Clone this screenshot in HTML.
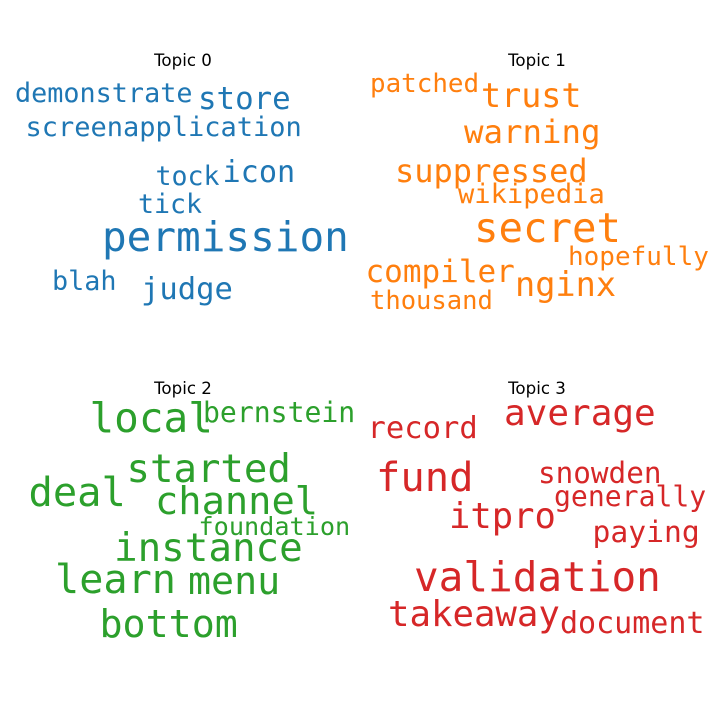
<!DOCTYPE html>
<html lang="en">
<head>
<meta charset="utf-8">
<title>Topic word clouds</title>
<style>
html,body{margin:0;padding:0;background:#fff;width:720px;height:720px;overflow:hidden}
svg{display:block}
.t{font-family:"DejaVu Sans","Liberation Sans",sans-serif;font-size:16.67px;fill:#000;text-anchor:middle}
.w{font-family:"DejaVu Sans Mono","Liberation Mono",monospace}
.c0{fill:#1f77b4}.c1{fill:#ff7f0e}.c2{fill:#2ca02c}.c3{fill:#d62728}
</style>
</head>
<body>
<svg width="720" height="720" viewBox="0 0 720 720" xmlns="http://www.w3.org/2000/svg">
<g>
<text class="t" x="183" y="66">Topic 0</text>
<text class="w c0" x="15" y="102" font-size="26.8">demonstrate</text>
<text class="w c0" x="198" y="109" font-size="30.8">store</text>
<text class="w c0" x="25.5" y="136" font-size="27">screen</text>
<text class="w c0" x="123" y="136" font-size="27">application</text>
<text class="w c0" x="222.5" y="182" font-size="30.2">icon</text>
<text class="w c0" x="155.5" y="185" font-size="26.6">tock</text>
<text class="w c0" x="138" y="213" font-size="26.6">tick</text>
<text class="w c0" x="102" y="251" font-size="41">permission</text>
<text class="w c0" x="52" y="290" font-size="26.8">blah</text>
<text class="w c0" x="141" y="299" font-size="30.5">judge</text>
</g>
<g>
<text class="t" x="537" y="66">Topic 1</text>
<text class="w c1" x="370" y="92" font-size="25.9">patched</text>
<text class="w c1" x="481" y="107" font-size="33.4">trust</text>
<text class="w c1" x="464" y="143" font-size="32.4">warning</text>
<text class="w c1" x="395" y="182" font-size="32">suppressed</text>
<text class="w c1" x="458" y="203" font-size="27.1">wikipedia</text>
<text class="w c1" x="474" y="242" font-size="40.7">secret</text>
<text class="w c1" x="568" y="265" font-size="26">hopefully</text>
<text class="w c1" x="365.5" y="282" font-size="31">compiler</text>
<text class="w c1" x="515" y="296" font-size="33.6">nginx</text>
<text class="w c1" x="370" y="309" font-size="25.5">thousand</text>
</g>
<g>
<text class="t" x="183" y="394">Topic 2</text>
<text class="w c2" x="89.5" y="432" font-size="41">local</text>
<text class="w c2" x="203" y="422" font-size="28.1">bernstein</text>
<text class="w c2" x="126.5" y="482" font-size="39">started</text>
<text class="w c2" x="28.5" y="506" font-size="40.4">deal</text>
<text class="w c2" x="155" y="514" font-size="38.7">channel</text>
<text class="w c2" x="198.5" y="535" font-size="25.2">foundation</text>
<text class="w c2" x="114" y="561" font-size="39.2">instance</text>
<text class="w c2" x="55" y="593" font-size="40.2">learn</text>
<text class="w c2" x="188" y="594" font-size="38.3">menu</text>
<text class="w c2" x="99.5" y="637" font-size="38.3">bottom</text>
</g>
<g>
<text class="t" x="537" y="394">Topic 3</text>
<text class="w c3" x="504" y="425" font-size="36">average</text>
<text class="w c3" x="367.5" y="438" font-size="30.5">record</text>
<text class="w c3" x="376" y="491" font-size="40.5">fund</text>
<text class="w c3" x="538" y="483" font-size="29.3">snowden</text>
<text class="w c3" x="554" y="506" font-size="28.1">generally</text>
<text class="w c3" x="449" y="528" font-size="35.5">itpro</text>
<text class="w c3" x="592.5" y="542" font-size="29.7">paying</text>
<text class="w c3" x="414" y="591" font-size="41">validation</text>
<text class="w c3" x="388" y="626" font-size="35.7">takeaway</text>
<text class="w c3" x="560" y="633" font-size="30">document</text>
</g>
</svg>
</body>
</html>
